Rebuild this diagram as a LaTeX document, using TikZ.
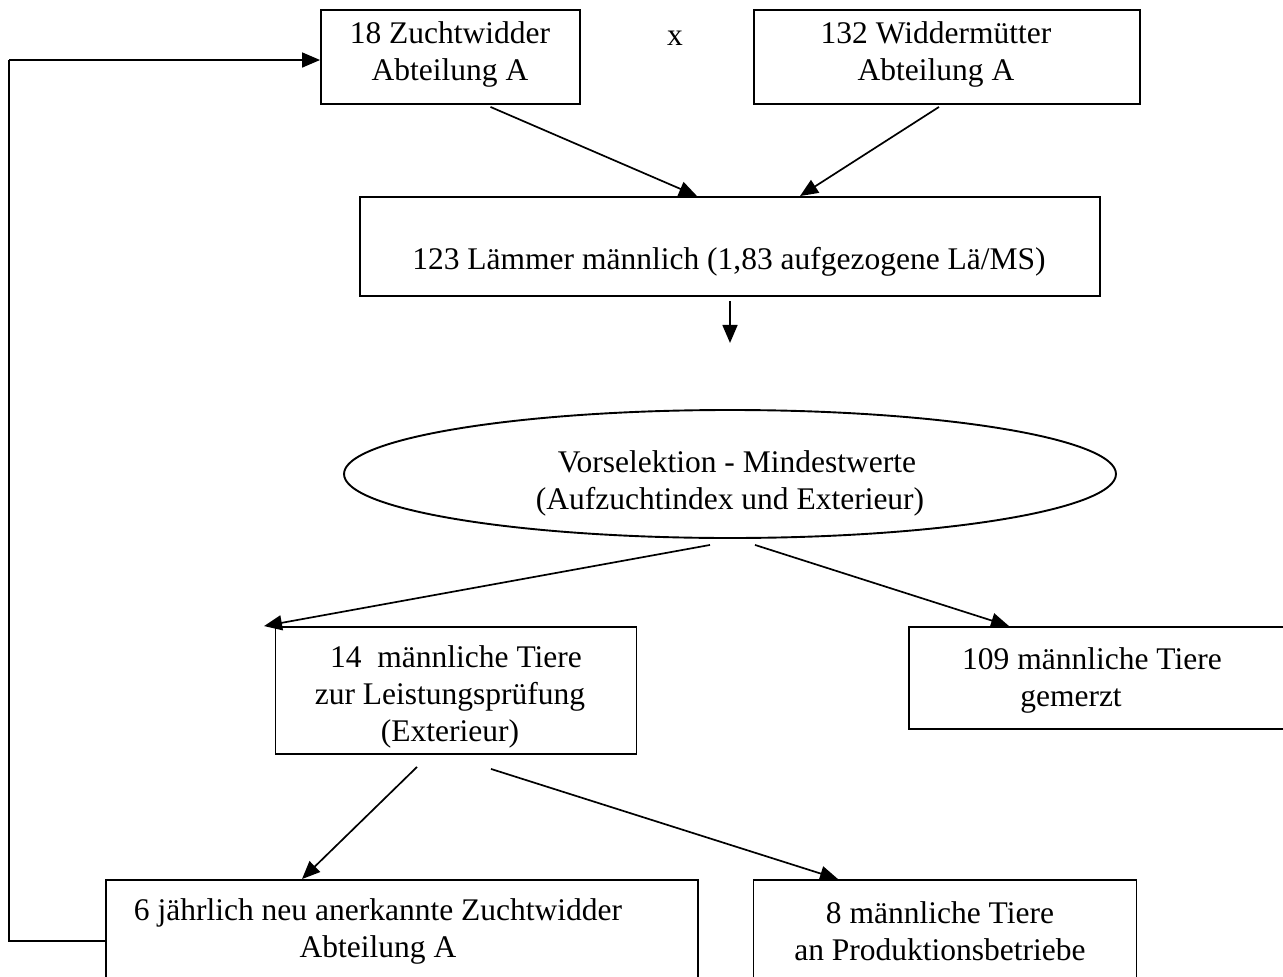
\documentclass[tikz,border=0pt]{standalone}
\usepackage{fontspec}
\setmainfont{Liberation Serif}
\usetikzlibrary{arrows.meta,calc,shapes.geometric}
\tikzset{
  box/.style={draw,line width=1.9pt,rectangle,inner sep=0pt},
  oval/.style={draw,line width=1.9pt,ellipse,inner sep=0pt},
  txt/.style={align=center,inner sep=0pt,font=\fontsize{31.5}{37}\selectfont},
  arr/.style={line width=1.7pt,-{Triangle[length=18pt,width=15pt]}},
  ln/.style={line width=1.9pt}
}
\begin{document}
\begin{tikzpicture}[x=1pt,y=-1pt]
\useasboundingbox (0,0) rectangle (1283,977);
% boxes
\node[box,minimum width=259pt,minimum height=94pt] (A) at (450.5,57) {};
\node[txt] (At) at (450,54) {18 Zuchtwidder\\Abteilung A};
\node[txt] (x) at (675,38) {x};
\node[box,minimum width=386pt,minimum height=94pt] (B) at (947,57) {};
\node[txt] (Bt) at (936,54) {132 Widdermütter\\Abteilung A};
\node[box,minimum width=740pt,minimum height=99pt] (C) at (730,246.5) {};
\node[txt] (Ct) at (729,262) {123 Lämmer männlich (1,83 aufgezogene Lä/MS)};
\node[oval,minimum width=772pt,minimum height=128pt] (E) at (730,474) {};
\node[txt] (Et) at (737,483) {Vorselektion - Mindestwerte\\\hspace*{-14pt}(Aufzuchtindex und Exterieur)};
\node[box,minimum width=361pt,minimum height=127pt] (D) at (456,690.5) {};
\node[txt] (Dt) at (450,697) {\hspace*{12pt}14\enspace männliche Tiere\\zur Leistungsprüfung\hspace*{34pt}\\(Exterieur)};
\node[box,minimum width=400pt,minimum height=102pt] (M) at (1109,678) {};
\node[txt] (Mt) at (1092,680) {109 männliche Tiere\\gemerzt\hspace*{42pt}};
\node[box,minimum width=592pt,minimum height=104pt] (F) at (402,932) {};
\node[txt] (Ft) at (378,931) {6 jährlich neu anerkannte Zuchtwidder\\Abteilung A};
\node[box,minimum width=383pt,minimum height=104pt] (G) at (945,932) {};
\node[txt] (Gt) at (940,931) {8 männliche Tiere\\an Produktionsbetriebe};
% connectors
\draw[arr] ($(A.south)+(40,2)$) -- ($(C.north)+(-33,0)$);
\draw[arr] ($(B.south)+(-8,2)$) -- ($(C.north)+(70,0)$);
\draw[arr] ($(C.south)+(0,4)$) -- ($(C.south)+(0,46)$);
\draw[arr] ($(E.south)+(-20,6)$) -- ($(D.north)+(-192,0)$);
\draw[arr] ($(E.south)+(25,6)$) -- ($(M.north)+(-100,0)$);
\draw[arr] ($(D.south)+(-39,12)$) -- ($(F.north)+(-100,0)$);
\draw[arr] ($(D.south)+(35,14)$) -- ($(G.north)+(-107,0)$);
\coordinate (c1) at ($(F.west)+(-96,9)$);
\coordinate (c2) at ($(A.west)+(-311,3)$);
\draw[ln] ($(F.west)+(0,9)$) -- (c1) -- (c2);
\draw[arr] (c2) -- ($(A.west)+(0,3)$);
\end{tikzpicture}
\end{document}
